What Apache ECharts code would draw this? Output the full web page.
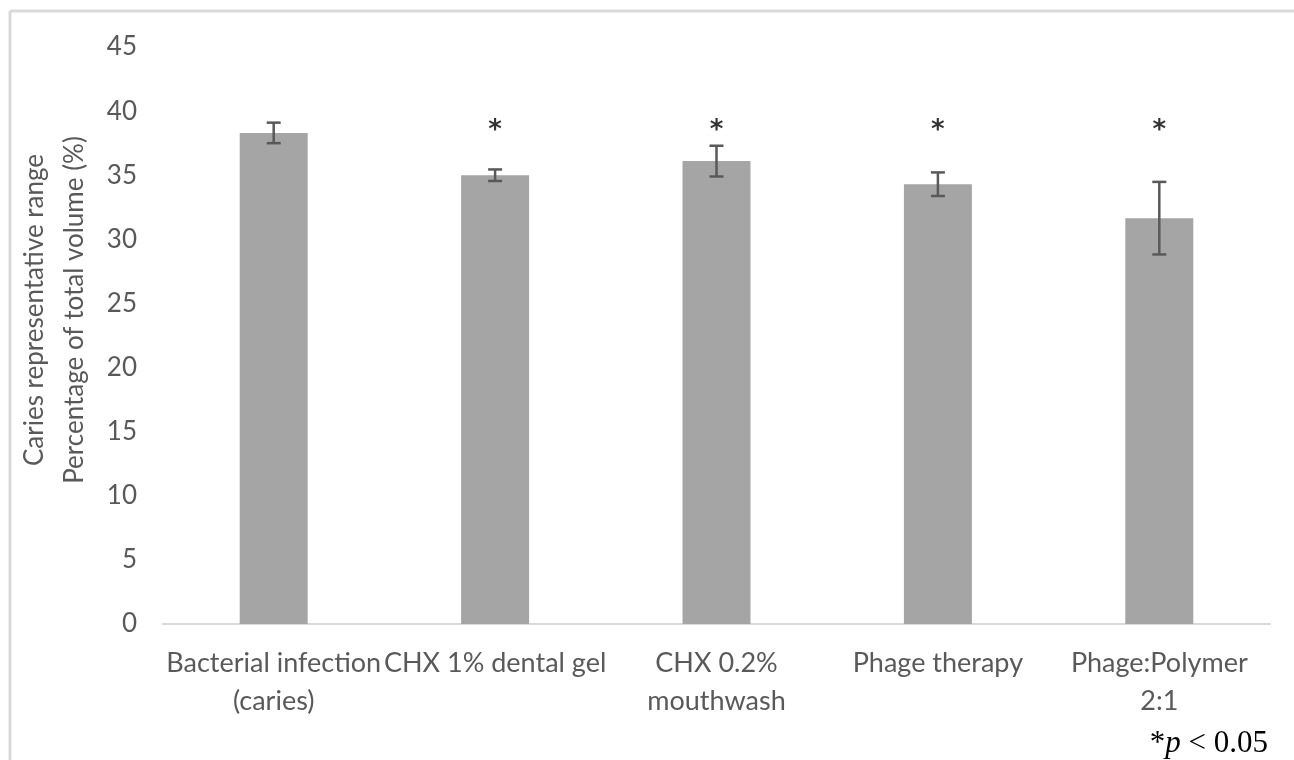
<!DOCTYPE html>
<html>
<head>
<meta charset="utf-8">
<script src="https://cdn.jsdelivr.net/npm/echarts@6/dist/echarts.min.js"></script>
<style>html,body{margin:0;padding:0;background:#fff}#c{width:1294px;height:760px}</style>
</head>
<body>
<div id="c"></div>
<script>
const categories = ['Bacterial infection\n(caries)', 'CHX 1% dental gel', 'CHX 0.2%\nmouthwash', 'Phage therapy', 'Phage:Polymer\n2:1'];
const means = [38.3, 35.0, 36.1, 34.3, 31.65];
const errors = [0.8, 0.45, 1.2, 0.92, 2.83];
const stars = ['', '*', '*', '*', '*'];
const starLevel = [38.9, 38.9, 38.9, 38.9, 38.9];
const yTicks = { min: 0, max: 45, interval: 5 };
const yTitle = ['Caries representative range', 'Percentage of total volume (%)'];
const footnote = ['*', 'p', ' < 0.05'];

const FONT = 'Lato';
const GREY = '#595959';
const chart = echarts.init(document.getElementById('c'), null, { renderer: 'canvas' });

const errData = means.map((m, i) => [i, m - errors[i], m + errors[i]]);
const starData = starLevel.map((v, i) => stars[i] ? { value: [i, v], label: { formatter: stars[i] } } : null).filter(d => d);

chart.setOption({
  animation: false,
  backgroundColor: '#fff',
  grid: { left: 163, right: 24, top: 47, bottom: 136 },
  xAxis: {
    type: 'category',
    data: categories,
    axisLine: { lineStyle: { color: '#d9d9d9', width: 2 } },
    axisTick: { show: false },
    axisLabel: { interval: 0, color: GREY, fontFamily: FONT, fontSize: 27, lineHeight: 38, margin: 20 }
  },
  yAxis: {
    type: 'value',
    min: yTicks.min, max: yTicks.max, interval: yTicks.interval,
    splitLine: { show: false },
    axisLine: { show: false },
    axisTick: { show: false },
    axisLabel: { color: GREY, fontFamily: FONT, fontSize: 26, margin: 26 }
  },
  series: [
    {
      type: 'bar',
      data: means,
      barWidth: 68,
      itemStyle: { color: '#a5a5a5' }
    },
    {
      type: 'custom',
      data: errData,
      z: 5,
      renderItem: function (params, api) {
        const x = api.value(0);
        const lo = api.coord([x, api.value(1)]);
        const hi = api.coord([x, api.value(2)]);
        const hw = 7;
        const style = { stroke: GREY, lineWidth: 2.5 };
        return {
          type: 'group',
          children: [
            { type: 'line', shape: { x1: hi[0], y1: hi[1], x2: lo[0], y2: lo[1] }, style: style },
            { type: 'line', shape: { x1: hi[0] - hw, y1: hi[1], x2: hi[0] + hw, y2: hi[1] }, style: style },
            { type: 'line', shape: { x1: lo[0] - hw, y1: lo[1], x2: lo[0] + hw, y2: lo[1] }, style: style }
          ]
        };
      }
    },
    {
      type: 'scatter',
      data: starData,
      symbolSize: 0,
      label: { show: true, position: 'inside', color: '#000', fontFamily: 'DejaVu Sans', fontWeight: 'bold', fontSize: 26, offset: [0, 6] }
    }
  ],
  graphic: [
    { type: 'line', shape: { x1: 10, y1: 11, x2: 10, y2: 760 }, style: { stroke: '#d9d9d9', lineWidth: 3 } },
    { type: 'line', shape: { x1: 10, y1: 11, x2: 1294, y2: 11 }, style: { stroke: '#d9d9d9', lineWidth: 3 } },
    {
      type: 'text', x: 55, y: 310, rotation: Math.PI / 2,
      style: { text: yTitle.join('\n'), fill: GREY, font: '26px ' + FONT, align: 'center', verticalAlign: 'middle', lineHeight: 40 }
    },
    {
      type: 'text', right: 26, top: 728,
      style: {
        text: '{a|' + footnote[0] + '}{b|' + footnote[1] + '}{a|' + footnote[2] + '}',
        rich: {
          a: { fontFamily: 'Liberation Serif', fontSize: 31, fill: '#000' },
          b: { fontFamily: 'Liberation Serif', fontSize: 31, fontStyle: 'italic', fill: '#000' }
        }
      }
    }
  ]
});
</script>
</body>
</html>
